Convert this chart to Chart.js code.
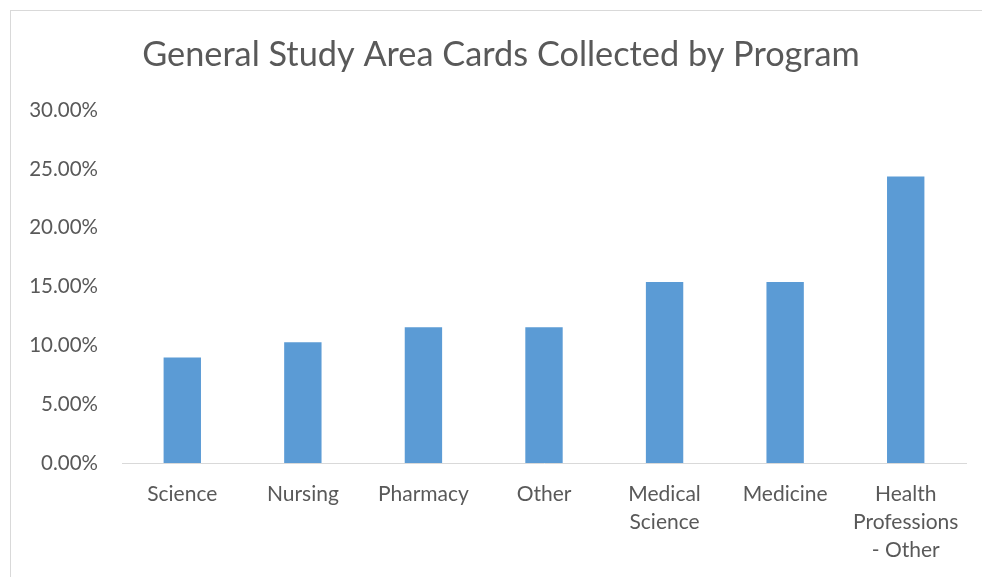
<!DOCTYPE html>
<html>
<head>
<meta charset="utf-8">
<script src="https://cdn.jsdelivr.net/npm/chart.js@4"></script>
<style>
  html, body { margin: 0; padding: 0; background: #fff; overflow: hidden; }
  body { width: 982px; height: 577px; position: relative; }
  #marco { position: absolute; left: 10px; top: 10px; width: 990px; height: 600px; border: 1px solid #d9d9d9; box-sizing: border-box; }
  #caja { position: absolute; left: 10px; top: 10px; width: 982px; height: 567px; }
</style>
</head>
<body>
<div id="marco"></div>
<div id="caja"><canvas id="grafico"></canvas></div>
<script>
// datos
var programas = ['Science', 'Nursing', 'Pharmacy', 'Other', ['Medical', 'Science'], 'Medicine', ['Health', 'Professions', '- Other']];
var porcentajes = [8.97, 10.26, 11.54, 11.54, 15.38, 15.38, 24.36];
var titulo = 'General Study Area Cards Collected by Program';

var fuente = 'Lato, "Open Sans", sans-serif';
var gris = '#595959';

var ctx = document.getElementById('grafico').getContext('2d');
var grafico = new Chart(ctx, {
  type: 'bar',
  data: {
    labels: programas,
    datasets: [{
      data: porcentajes,
      backgroundColor: '#5b9bd5',
      categoryPercentage: 1,
      barPercentage: 0.31
    }]
  },
  options: {
    responsive: true,
    maintainAspectRatio: false,
    animation: false,
    layout: { padding: 0 },
    plugins: {
      legend: { display: false },
      tooltip: { enabled: false },
      title: {
        display: true,
        text: titulo,
        color: gris,
        font: { family: fuente, size: 34.3, weight: 'normal' },
        padding: { top: 24, bottom: 35 }
      }
    },
    scales: {
      x: {
        grid: { display: false, drawTicks: false },
        border: { display: true, color: '#d9d9d9', width: 1 },
        ticks: {
          color: gris,
          font: { family: fuente, size: 21, lineHeight: 1.33 },
          padding: 17,
          maxRotation: 0,
          autoSkip: false
        },
        afterFit: function (escala) { escala.height = 114; }
      },
      y: {
        min: 0,
        max: 30,
        grid: { display: false, drawTicks: false },
        border: { display: false },
        ticks: {
          stepSize: 5,
          color: gris,
          font: { family: fuente, size: 20.5 },
          padding: 24,
          callback: function (v) { return v.toFixed(2) + '%'; }
        },
        afterFit: function (escala) { escala.width = 112; }
      },
      // eje vacio a la derecha, solo para dejar margen
      margen: {
        position: 'right',
        grid: { display: false, drawTicks: false },
        border: { display: false },
        ticks: { display: false },
        afterFit: function (escala) { escala.width = 26; }
      }
    }
  }
});
</script>
</body>
</html>
